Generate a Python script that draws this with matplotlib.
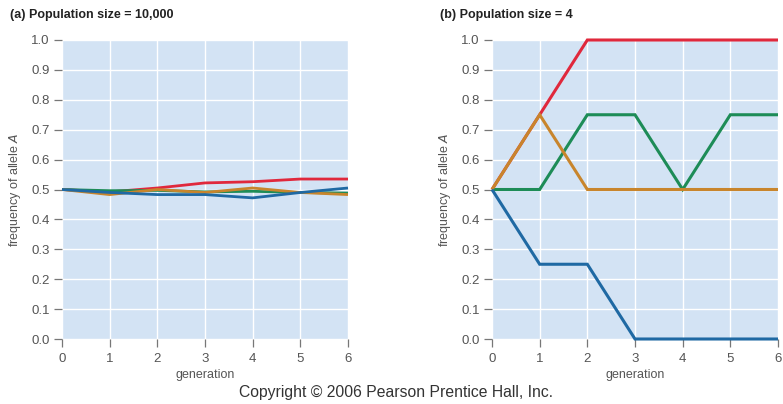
import matplotlib
matplotlib.use("Agg")
import matplotlib.pyplot as plt

generations = [0, 1, 2, 3, 4, 5, 6]
x_ticks = [0, 1, 2, 3, 4, 5, 6]
y_ticks = [0.0, 0.1, 0.2, 0.3, 0.4, 0.5, 0.6, 0.7, 0.8, 0.9, 1.0]

# (a) Population size = 10,000
large_red = [0.50, 0.492, 0.505, 0.522, 0.526, 0.535, 0.535]
large_green = [0.50, 0.496, 0.497, 0.492, 0.494, 0.490, 0.488]
large_orange = [0.50, 0.483, 0.500, 0.490, 0.505, 0.490, 0.483]
large_blue = [0.50, 0.490, 0.483, 0.483, 0.472, 0.490, 0.505]

# (b) Population size = 4
small_red = [0.50, 0.75, 1.00, 1.00, 1.00, 1.00, 1.00]
small_green = [0.50, 0.50, 0.75, 0.75, 0.50, 0.75, 0.75]
small_orange = [0.50, 0.75, 0.50, 0.50, 0.50, 0.50, 0.50]
small_blue = [0.50, 0.25, 0.25, 0.00, 0.00, 0.00, 0.00]

titles = ["(a) Population size = 10,000", "(b) Population size = 4"]

RED = "#e0283c"
GREEN = "#1d8c57"
ORANGE = "#c8852c"
BLUE = "#1f69a3"
BG = "#d3e3f4"
GRAY = "#555555"

plt.rcParams['font.family'] = ['Liberation Sans', 'DejaVu Sans']

fig = plt.figure(figsize=(7.83, 4.04), dpi=100)
fig.patch.set_facecolor("white")

W, H = 783, 404
def box(l, r, t, b):
    return [l / W, 1 - b / H, (r - l) / W, (b - t) / H]

ax1 = fig.add_axes(box(62, 348, 40, 339))
ax2 = fig.add_axes(box(492, 778, 40, 339))

panels = [
    (ax1, [large_red, large_green, large_orange, large_blue], 2.0),
    (ax2, [small_red, small_green, small_orange, small_blue], 2.2),
]

for ax, series, lw in panels:
    ax.set_facecolor(BG)
    for vals, c in zip(series, [RED, GREEN, ORANGE, BLUE]):
        ax.plot(generations, vals, color=c, lw=lw, solid_joinstyle="miter",
                solid_capstyle="butt", zorder=3, clip_on=False)
    ax.set_xlim(0, 6)
    ax.set_ylim(0, 1.0)
    ax.set_xticks(x_ticks)
    ax.set_yticks(y_ticks)
    ax.set_yticklabels([f"{v:.1f}" for v in y_ticks])
    ax.grid(True, color="white", lw=1.0, zorder=1)
    ax.set_axisbelow(True)
    for s in ax.spines.values():
        s.set_visible(False)
    ax.tick_params(axis="both", colors="#777777", labelcolor=GRAY, labelsize=9.5,
                   length=6, width=0.9, pad=3)
    ax.tick_params(axis="x", pad=4)
    ax.set_xlabel("generation", fontsize=9, color=GRAY, labelpad=3)
    ax.set_ylabel("frequency of allele $\\mathit{A}$", fontsize=9, color=GRAY, labelpad=6)

fig.text(10 / W, 1 - 15 / H, titles[0], fontsize=9, fontweight="bold", color="#222222", va="center")
fig.text(440 / W, 1 - 15 / H, titles[1], fontsize=9, fontweight="bold", color="#222222", va="center")
fig.text(396 / W, 1 - 393 / H, "Copyright © 2006 Pearson Prentice Hall, Inc.",
         fontsize=11.3, color="#333333", ha="center", va="center")

fig.savefig("out.png", dpi=100, facecolor="white")
